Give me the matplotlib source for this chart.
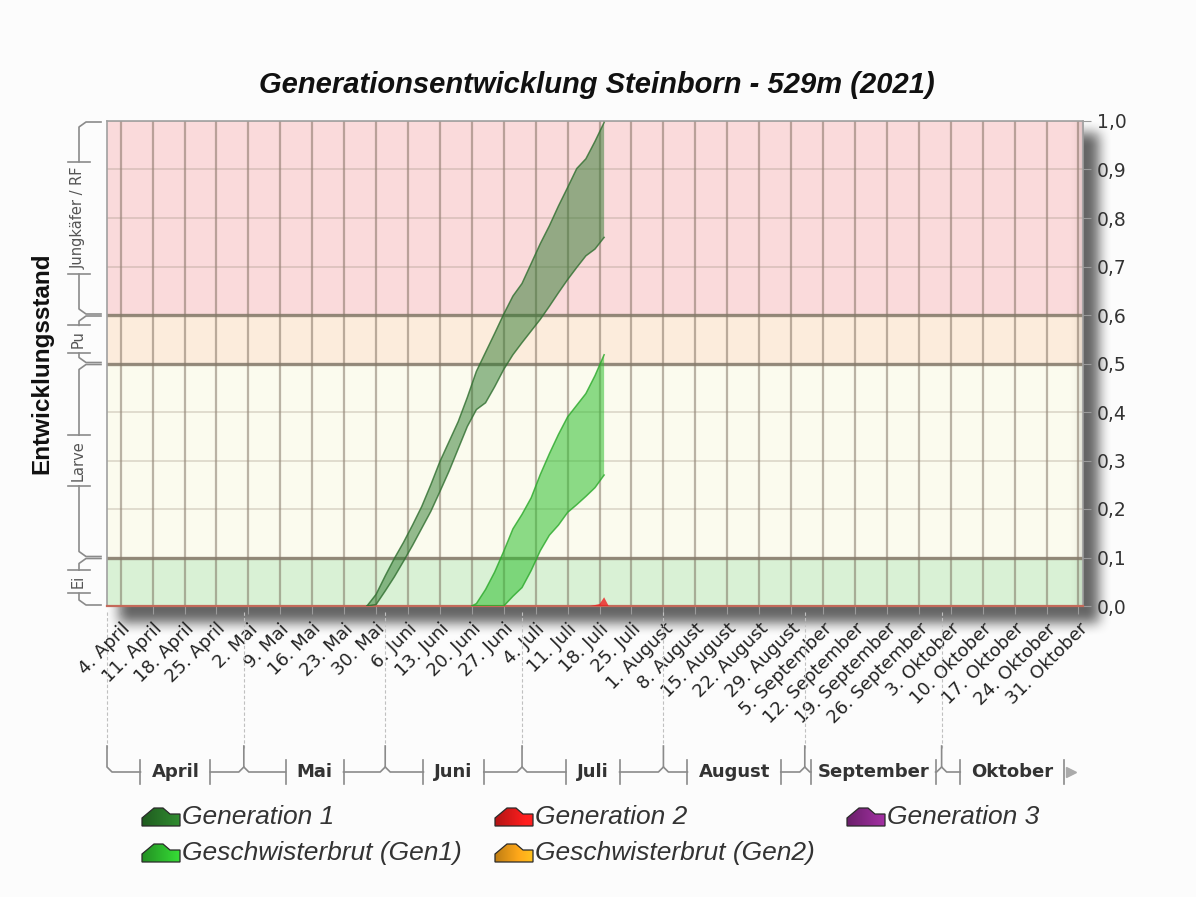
import numpy as np
import matplotlib
matplotlib.use("Agg")
import matplotlib.pyplot as plt
import matplotlib.dates as mdates
import datetime as dt

W, H = 1196, 897

title = "Generationsentwicklung Steinborn - 529m (2021)"
y_label = "Entwicklungsstand"

gen1_dates = ["2021-05-28", "2021-05-30", "2021-06-01", "2021-06-03", "2021-06-05", "2021-06-07",
              "2021-06-09", "2021-06-11", "2021-06-13", "2021-06-15", "2021-06-17", "2021-06-19",
              "2021-06-21", "2021-06-23", "2021-06-25", "2021-06-27", "2021-06-29", "2021-07-01",
              "2021-07-03", "2021-07-05", "2021-07-07", "2021-07-09", "2021-07-11", "2021-07-13",
              "2021-07-15", "2021-07-17", "2021-07-19"]
gen1_upper = [0.0, 0.024, 0.062, 0.098, 0.131, 0.167, 0.205, 0.250, 0.298, 0.339, 0.380, 0.430,
              0.484, 0.523, 0.562, 0.602, 0.639, 0.665, 0.706, 0.747, 0.784, 0.825, 0.863, 0.902,
              0.922, 0.958, 0.997]
gen1_lower = [0.0, 0.003, 0.031, 0.060, 0.092, 0.125, 0.160, 0.195, 0.236, 0.278, 0.324, 0.370,
              0.405, 0.419, 0.452, 0.488, 0.518, 0.543, 0.567, 0.591, 0.618, 0.646, 0.673, 0.698,
              0.722, 0.736, 0.760]

gesch1_dates = ["2021-06-20", "2021-06-21", "2021-06-23", "2021-06-25", "2021-06-27", "2021-06-29",
                "2021-07-01", "2021-07-03", "2021-07-05", "2021-07-07", "2021-07-09", "2021-07-11",
                "2021-07-13", "2021-07-15", "2021-07-17", "2021-07-19"]
gesch1_upper = [0.0, 0.005, 0.034, 0.070, 0.113, 0.159, 0.189, 0.223, 0.271, 0.314, 0.354, 0.390,
                0.414, 0.438, 0.475, 0.518]
gesch1_lower = [0.0, 0.0, 0.0, 0.0, 0.0, 0.020, 0.038, 0.073, 0.114, 0.146, 0.167, 0.193,
                0.209, 0.226, 0.244, 0.270]

gen2_dates = ["2021-07-16", "2021-07-18", "2021-07-19", "2021-07-20"]
gen2_upper = [0.0, 0.004, 0.018, 0.0]
gen2_lower = [0.0, 0.0, 0.0, 0.0]

stage_bounds = [0.0, 0.1, 0.5, 0.6, 1.0]
stage_names = ["Ei", "Larve", "Pu", "Jungkäfer / RF"]
stage_colors = ["#d9f1d5", "#fbfbee", "#fcecdc", "#fadadb"]

month_names = ["April", "Mai", "Juni", "Juli", "August", "September", "Oktober"]
month_starts = ["2021-04-01", "2021-05-01", "2021-06-01", "2021-07-01", "2021-08-01",
                "2021-09-01", "2021-10-01", "2021-11-01"]
first_week_tick = "2021-04-04"
last_week_tick = "2021-10-31"

y_ticks = [0.0, 0.1, 0.2, 0.3, 0.4, 0.5, 0.6, 0.7, 0.8, 0.9, 1.0]
y_tick_labels = ["0,0", "0,1", "0,2", "0,3", "0,4", "0,5", "0,6", "0,7", "0,8", "0,9", "1,0"]

legend_labels = ["Generation 1", "Generation 2", "Generation 3",
                 "Geschwisterbrut (Gen1)", "Geschwisterbrut (Gen2)"]
legend_colors = ["#2a7a2a", "#ee1c1c", "#8e2a8e", "#2fc02f", "#ffa81a"]


def d(s):
    return dt.datetime.strptime(s, "%Y-%m-%d")


fig = plt.figure(figsize=(W / 100, H / 100), dpi=100, facecolor="#fcfcfc")

# ---- drop shadow background (pixel coordinates)
bg = fig.add_axes([0, 0, 1, 1], zorder=-2)
bg.set_xlim(0, W)
bg.set_ylim(H, 0)
bg.axis("off")
mask = np.zeros((H, W))
mask[134:624, 120:1100] = 1.0


def box(a, k, axis):
    pad = [(k, k) if i == axis else (0, 0) for i in range(2)]
    c = np.cumsum(np.pad(a, pad, mode="edge"), axis=axis)
    if axis == 0:
        return (c[2 * k:, :] - c[:-2 * k, :]) / (2 * k)
    return (c[:, 2 * k:] - c[:, :-2 * k]) / (2 * k)


for _ in range(2):
    mask = box(mask, 7, 0)
    mask = box(mask, 7, 1)
rgba = np.zeros((H, W, 4))
rgba[..., 3] = 0.6 * mask[:H, :W]
bg.imshow(rgba, extent=[0, W, H, 0], aspect="auto", interpolation="bilinear")

# ---- main axes
ax = fig.add_axes([107 / W, 1 - 606 / H, (1083 - 107) / W, (606 - 121) / H], zorder=1)
x0, x1 = d(month_starts[0]), d(month_starts[-1])
ax.set_xlim(x0, x1)
ax.set_ylim(0, 1)

for i, c in enumerate(stage_colors):
    ax.axhspan(stage_bounds[i], stage_bounds[i + 1], color=c, zorder=0, lw=0)

# subtle bevel shading near the right edge of the plot area
bev = np.zeros((2, 64, 4))
bev[..., 3] = np.linspace(0, 1, 64) ** 3 * 0.13
ax.imshow(bev, extent=[mdates.date2num(x1) - 4, mdates.date2num(x1), 0, 1], aspect="auto",
          zorder=0.5, interpolation="bilinear")

weeks = mdates.drange(d(first_week_tick), d(last_week_tick) + dt.timedelta(days=1), dt.timedelta(days=7))
week_dates = [mdates.num2date(w) for w in weeks]
ax.set_xticks(weeks)
ax.set_xticklabels([f"{w.day}. {month_names[w.month - 4]}" for w in week_dates],
                   rotation=45, ha="right", va="top", rotation_mode="anchor",
                   fontsize=13, color="#222222", family="DejaVu Sans")
ax.yaxis.tick_right()
ax.set_yticks(y_ticks)
ax.set_yticklabels(y_tick_labels, fontsize=13.5, color="#333333", family="DejaVu Sans")
ax.tick_params(axis="x", length=6, color="#9a9a9a", pad=4)
ax.tick_params(axis="y", length=6, color="#9a9a9a", pad=4)
ax.set_xlim(x0, x1)
ax.set_ylim(0, 1)

ax.grid(axis="x", color="#6a5a4a", alpha=0.45, lw=1.6, zorder=1)
ax.grid(axis="y", color="#9a8a7a", alpha=0.3, lw=1.3, zorder=1)
ax.set_axisbelow(True)
for b in stage_bounds[1:-1]:
    ax.axhline(b, color="#857a6a", lw=2.4, alpha=0.85, zorder=1.5)

for sp in ["left", "top", "right"]:
    ax.spines[sp].set_color("#a0a0a0")
    ax.spines[sp].set_linewidth(1.2)
ax.spines["bottom"].set_color("#c46a5a")
ax.spines["bottom"].set_linewidth(1.6)

g1d = [d(s) for s in gen1_dates]
ax.fill_between(g1d, gen1_lower, gen1_upper, facecolor="#2e7a2e", alpha=0.5, zorder=3,
                edgecolor="none")
ax.plot(g1d, gen1_upper, color="#2f6e2f", lw=1.1, alpha=0.8, zorder=4)
ax.plot(g1d, gen1_lower, color="#2f6e2f", lw=1.1, alpha=0.8, zorder=4)
gsd = [d(s) for s in gesch1_dates]
ax.fill_between(gsd, gesch1_lower, gesch1_upper, facecolor="#30c030", alpha=0.55, zorder=3,
                edgecolor="none")
ax.plot(gsd, gesch1_upper, color="#2aa82a", lw=1.1, alpha=0.8, zorder=4)
ax.plot(gsd, gesch1_lower, color="#2aa82a", lw=1.1, alpha=0.8, zorder=4)
g2d = [d(s) for s in gen2_dates]
ax.fill_between(g2d, gen2_lower, gen2_upper, facecolor="#ee2020", alpha=0.8, zorder=3)

# ---- overlay in pixel coordinates
ov = fig.add_axes([0, 0, 1, 1], zorder=5)
ov.set_xlim(0, W)
ov.set_ylim(H, 0)
ov.axis("off")
ov.patch.set_alpha(0)
fig.canvas.draw()
ren = fig.canvas.get_renderer()

ov.text(597, 85, title, ha="center", va="center", fontsize=21, fontweight="bold",
        fontstyle="italic", family="Liberation Sans", color="#111111")
ov.text(42, 363, y_label, ha="center", va="center", rotation=90, fontsize=17.5,
        fontweight="bold", family="Liberation Sans", color="#111111")

LC = "#8a8a8a"


def vy(v):
    return 606 - v * 485


# stage braces on the left
for i, name in enumerate(stage_names):
    ytop, ybot = vy(stage_bounds[i + 1]), vy(stage_bounds[i])
    yc = (ytop + ybot) / 2
    t = ov.text(78, yc, name, rotation=90, ha="center", va="center", fontsize=10.5,
                color="#555555", family="DejaVu Sans")
    h = t.get_window_extent(ren).height / 2 + 5
    ov.plot([101, 86, 79, 79], [ytop + 1, ytop + 1, ytop + 6, yc - h], color=LC, lw=1.2)
    ov.plot([79, 79, 86, 101], [yc + h, ybot - 6, ybot - 1, ybot - 1], color=LC, lw=1.2)
    ov.plot([68, 90], [yc - h, yc - h], color=LC, lw=1.2)
    ov.plot([68, 90], [yc + h, yc + h], color=LC, lw=1.2)

# month axis
ms = [d(s) for s in month_starts]
mx = [ax.transData.transform((mdates.date2num(m), 0))[0] for m in ms]
yl = 772
for i, name in enumerate(month_names):
    xs, xe = mx[i], mx[i + 1]
    xc = (xs + xe) / 2
    t = ov.text(xc, yl, name, ha="center", va="center", fontsize=13, fontweight="bold",
                color="#333333", family="DejaVu Sans")
    w = t.get_window_extent(ren).width / 2 + 11
    xl = max(xc - w, xs + 6)
    xr = min(xc + w, xe - 6)
    ov.plot([xs, xs], [612, 748], color="#c0c0c0", lw=0.8, ls=(0, (3, 2)))
    ov.plot([xs, xs, xs + 5, xl], [746, yl - 5, yl, yl], color=LC, lw=1.2)
    ov.plot([xl, xl], [yl - 12, yl + 12], color=LC, lw=1.2)
    ov.plot([xr, xr], [yl - 12, yl + 12], color=LC, lw=1.2)
    if i < len(month_names) - 1:
        ov.plot([xr, xe - 5, xe], [yl, yl, yl - 5], color=LC, lw=1.2)
    else:
        ov.plot([xr + 7], [yl], marker=">", color="#aaaaaa", ms=7)

# legend
positions = [(142, 817), (495, 817), (847, 817), (142, 853), (495, 853)]
shape = np.array([[0, 9], [0, 1], [6, -4], [12, -9], [21, -9], [28, -3], [38, -3], [38, 9]])
grad = np.linspace(0, 1, 32)[None, :, None]
for (px, py), lab, col in zip(positions, legend_labels, legend_colors):
    base = np.array(matplotlib.colors.to_rgb(col))
    img = np.clip(base[None, None, :] * 0.75 + 0.25 * grad * base[None, None, :] * 1.6, 0, 1)
    img = np.repeat(img, 2, axis=0)
    poly = plt.Polygon(shape + [px, py], closed=True, facecolor="none", edgecolor="#2a2a2a", lw=0.9,
                       zorder=6)
    ov.add_patch(poly)
    im = ov.imshow(img, extent=[px, px + 38, py + 9, py - 9], aspect="auto", zorder=5.5,
                   interpolation="bilinear")
    im.set_clip_path(poly)
    ov.text(px + 40, py, lab, ha="left", va="center", fontsize=19, fontstyle="italic",
            family="Liberation Sans", color="#333333")
ov.set_xlim(0, W)
ov.set_ylim(H, 0)

fig.savefig("out.png", dpi=100, facecolor=fig.get_facecolor())
